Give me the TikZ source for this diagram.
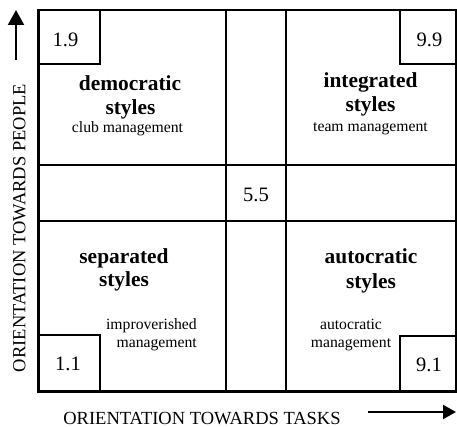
\documentclass[tikz,border=0pt]{standalone}
\usepackage{fontspec}
\setmainfont{Liberation Serif}
\usetikzlibrary{arrows.meta}
\begin{document}
\begin{tikzpicture}[x=1pt,y=-1pt,
  gridline/.style={line width=2pt},
  heavyline/.style={line width=3pt},
  title/.style={font=\fontsize{21.4}{24}\selectfont\bfseries, anchor=base, inner sep=0pt},
  note/.style={font=\fontsize{15.7}{18}\selectfont, anchor=base, inner sep=0pt},
  grade/.style={font=\fontsize{20.5}{24}\selectfont, anchor=base, inner sep=0pt},
  axislabel/.style={font=\fontsize{18.5}{22}\selectfont, inner sep=0pt},
  axisarrow/.style={line width=2pt, -{Triangle[length=15pt,width=16pt]}}]
\useasboundingbox (0,0) rectangle (457,427);

% inner grid: the middle column and row
\draw[gridline] (226,10) -- (226,391);
\draw[gridline] (286,10) -- (286,391);
\draw[gridline] (38,165) -- (456,165);
\draw[gridline] (38,221) -- (456,221);

% outer frame (left and bottom edges are heavier)
\draw[gridline] (38,10) -- (456,10) -- (456,391);
\draw[heavyline] (38,9) -- (38,391) -- (457,391);

% corner boxes
\draw[gridline] (38,64) -| (100,10);
\draw[gridline] (456,64) -| (400,10);
\draw[gridline] (38,335) -| (100,391);
\draw[gridline] (456,336) -| (400,391);

% grades
\node[grade] (g19) at (65.5,46.5) {1.9};
\node[grade] (g99) at (429.5,46.5) {9.9};
\node[grade] (g11) at (68,370) {1.1};
\node[grade] (g91) at (429,371) {9.1};
\node[grade] (g55) at (256,201.5) {5.5};

% democratic
\node[title] (demA) at (130,90.5) {democratic};
\node[title] (demB) at (130.5,114.5) {styles};
\node[note]  (demC) at (127.5,133) {club management};

% integrated
\node[title] (intA) at (370.5,88) {integrated};
\node[title] (intB) at (370.5,112) {styles};
\node[note]  (intC) at (370.5,131.5) {team management};

% separated
\node[title] (sepA) at (124,263.5) {separated};
\node[title] (sepB) at (124,287) {styles};
\node[note, anchor=base east] (sepC) at (197,329) {improverished};
\node[note, anchor=base east] (sepD) at (197,347.5) {management};

% autocratic
\node[title] (autA) at (371,264) {autocratic};
\node[title] (autB) at (371,288) {styles};
\node[note]  (autC) at (351,329) {autocratic};
\node[note]  (autD) at (351,347.5) {management};

% axes
\node[axislabel, rotate=90] (ylab) at (19.5,228) {ORIENTATION TOWARDS PEOPLE};
\node[axislabel] (xlab) at (202,418.5) {ORIENTATION TOWARDS TASKS};
\coordinate (ytail) at (16,60);
\coordinate (yhead) at (16,10);
\coordinate (xtail) at (368,412);
\coordinate (xhead) at (456,412);
\draw[axisarrow] (ytail) -- (yhead);
\draw[axisarrow, -{Triangle[length=13pt,width=14pt]}] (xtail) -- (xhead);
\end{tikzpicture}
\end{document}
